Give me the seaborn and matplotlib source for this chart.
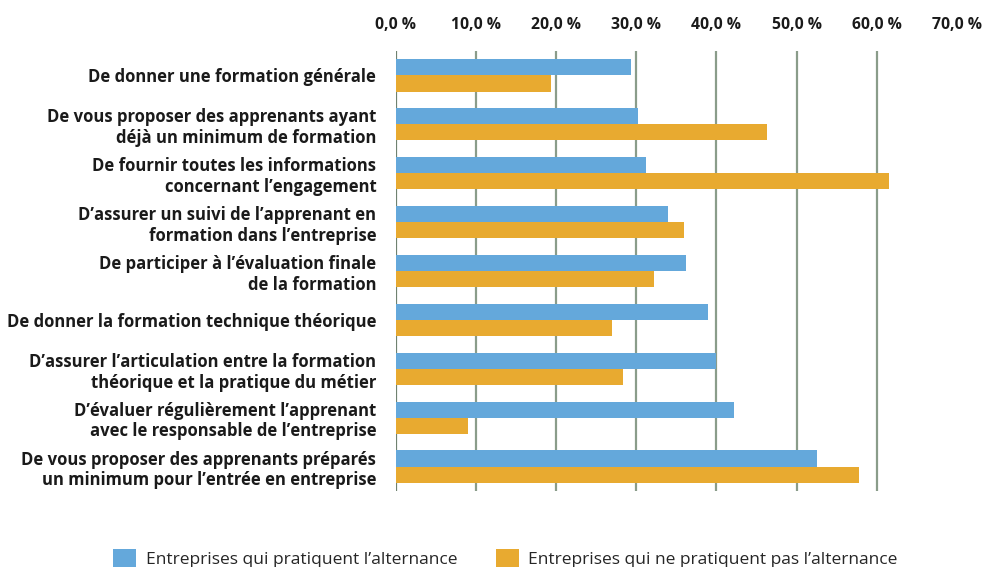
import matplotlib
matplotlib.use("Agg")
import matplotlib.pyplot as plt
import seaborn as sns
import pandas as pd
from matplotlib.patches import Patch

categories = [
    "De donner une formation générale",
    "De vous proposer des apprenants ayant\ndéjà un minimum de formation",
    "De fournir toutes les informations\nconcernant l’engagement",
    "D’assurer un suivi de l’apprenant en\nformation dans l’entreprise",
    "De participer à l’évaluation finale\nde la formation",
    "De donner la formation technique théorique",
    "D’assurer l’articulation entre la formation\nthéorique et la pratique du métier",
    "D’évaluer régulièrement l’apprenant\navec le responsable de l’entreprise",
    "De vous proposer des apprenants préparés\nun minimum pour l’entrée en entreprise",
]
series_names = [
    "Entreprises qui pratiquent l’alternance",
    "Entreprises qui ne pratiquent pas l’alternance",
]
values_alt = [29.3, 30.2, 31.2, 33.9, 36.2, 38.9, 39.9, 42.2, 52.5]
values_non_alt = [19.4, 46.3, 61.5, 35.9, 32.2, 27.0, 28.3, 9.0, 57.8]
tick_values = [0, 10, 20, 30, 40, 50, 60, 70]
tick_labels = ["0,0 %", "10,0 %", "20,0 %", "30,0 %", "40,0 %", "50,0 %", "60,0 %", "70,0 %"]
colors = ["#64A8DB", "#E8AA30"]

df = pd.DataFrame({
    "cat": categories * 2,
    "serie": [series_names[0]] * len(categories) + [series_names[1]] * len(categories),
    "val": values_alt + values_non_alt,
})

sns.set_style("white")
plt.rcParams["font.family"] = ["Open Sans", "DejaVu Sans"]

fig = plt.figure(figsize=(9.87, 5.67), dpi=100)
ax = fig.add_axes([0.401, 0.134, 0.5686, 0.776])

sns.barplot(data=df, y="cat", x="val", hue="serie", order=categories,
            hue_order=series_names, palette=colors, orient="h",
            width=0.66, gap=0, saturation=1, legend=False, ax=ax,
            errorbar=None, linewidth=0)

ax.set_xlim(0, 70)
ax.set_ylim(8.5, -0.5)
ax.set_xticks(tick_values)
ax.set_xticklabels(tick_labels, fontsize=11.3, fontweight="bold", color="#1a1a1a")
ax.xaxis.tick_top()
ax.tick_params(axis="x", length=0, pad=13)
ax.tick_params(axis="y", length=0, pad=14)
for lab in ax.get_yticklabels():
    lab.set_fontsize(12)
    lab.set_fontweight("bold")
    lab.set_color("#1a1a1a")
    lab.set_linespacing(1.2)
ax.set_xlabel("")
ax.set_ylabel("")
for s in ax.spines.values():
    s.set_visible(False)

ax.grid(axis="x", color="#8A9C8A", linewidth=1.6)
ax.set_axisbelow(True)
gl = ax.xaxis.get_gridlines()
gl[-1].set_visible(False)
gl[0].set_color("#6F8270")

handles = [Patch(facecolor=c, edgecolor="none") for c in colors]
fig.legend(handles, series_names, loc="lower center", ncol=2, frameon=False,
           bbox_to_anchor=(0.512, -0.03), handlelength=1.35,
           handleheight=1.3, columnspacing=2.2, handletextpad=0.55,
           prop={"family": ["Open Sans", "DejaVu Sans"], "size": 12.5})

fig.savefig("out.png", dpi=100)
